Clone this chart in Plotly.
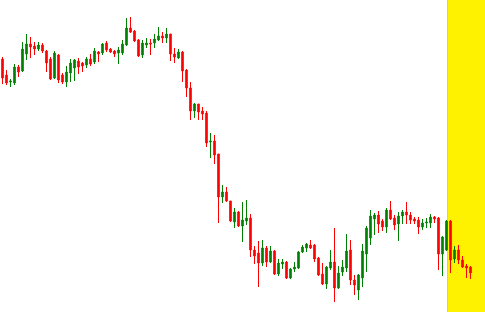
import plotly.graph_objects as go

open_ = [253,237,230,229,245,241,258,268,266,263,
         267,261,253,234,257,237,230,239,244,251,
         249,247,253,250,260,259,269,263,261,259,
         259,267,284,281,272,257,267,269,269,272,
         276,274,278,258,254,260,242,224,201,208,
         201,199,170,171,158,115,120,111,90,100,
         86,91,94,62,59,49,64,50,61,38,
         48,50,34,43,44,60,64,67,67,54,
         38,28,44,50,24,40,44,62,32,22,
         34,58,74,93,97,91,85,102,94,88,
         96,100,97,93,92,85,89,89,95,94,
         58,62,91,53,62,52,46,45]
high = [255,242,233,248,247,270,278,275,270,270,
        269,262,255,261,258,239,246,253,253,254,
        250,255,258,264,261,269,271,264,262,265,
        272,294,295,282,273,272,274,273,278,285,
        280,284,278,264,263,261,243,230,209,208,
        205,201,179,177,158,127,125,111,104,101,
        110,112,98,66,71,72,66,66,62,53,
        53,51,44,50,61,67,69,72,68,55,
        49,46,62,84,46,52,78,72,37,38,
        68,86,102,99,101,93,104,111,97,100,
        102,110,100,95,95,93,94,98,96,95,
        76,92,92,66,67,56,48,46]
low = [228,227,225,227,235,240,252,254,257,261,
       259,240,232,233,229,228,225,230,231,238,
       240,244,246,248,250,257,260,259,255,248,
       257,266,279,270,255,254,264,257,264,271,
       269,269,251,249,253,230,215,192,194,192,
       192,165,154,148,89,109,110,90,84,85,
       70,87,55,48,25,46,45,49,37,36,
       43,33,33,40,43,59,60,63,50,36,
       27,23,42,10,23,36,40,27,17,12,
       25,40,67,77,79,81,79,92,82,71,
       88,88,88,88,78,82,84,84,89,42,
       36,61,39,49,48,44,34,33]
close = [234,229,231,245,240,263,268,265,263,267,
         261,249,233,259,232,230,240,249,252,245,
         246,253,248,261,258,268,262,260,258,262,
         268,284,280,271,256,269,269,268,273,276,
         274,278,258,255,260,241,224,201,208,200,
         198,169,171,157,115,120,111,91,100,86,
         92,94,62,56,49,64,50,61,38,49,
         50,34,43,45,60,65,68,64,53,37,
         28,45,50,24,39,45,61,32,27,37,
         61,84,96,97,88,85,102,93,87,96,
         100,97,92,91,85,89,90,95,93,58,
         75,91,52,62,52,45,44,39]
bars = list(range(len(open_)))

fig = go.Figure(go.Candlestick(
    x=bars, open=open_, high=high, low=low, close=close,
    increasing=dict(line=dict(color="#008000", width=1), fillcolor="#008000"),
    decreasing=dict(line=dict(color="#FF0000", width=1), fillcolor="#FF0000"),
    whiskerwidth=0,
))

fig.add_shape(type="rect", xref="paper", yref="paper", x0=448/485, x1=1, y0=0, y1=1,
              fillcolor="#FFF200", line=dict(width=0), layer="below")
fig.add_shape(type="line", xref="paper", yref="paper", x0=447.5/485, x1=447.5/485, y0=0, y1=1,
              line=dict(color="#C8C8C8", width=1), layer="below")

fig.update_layout(
    width=485, height=312,
    margin=dict(l=0, r=0, t=0, b=0),
    paper_bgcolor="white", plot_bgcolor="white",
    showlegend=False,
    boxgap=0.45,
    xaxis=dict(visible=False, range=[-0.625, 120.625], rangeslider=dict(visible=False)),
    yaxis=dict(visible=False, range=[0, 312]),
)

fig.write_html("out.html", config={"displayModeBar": False})
